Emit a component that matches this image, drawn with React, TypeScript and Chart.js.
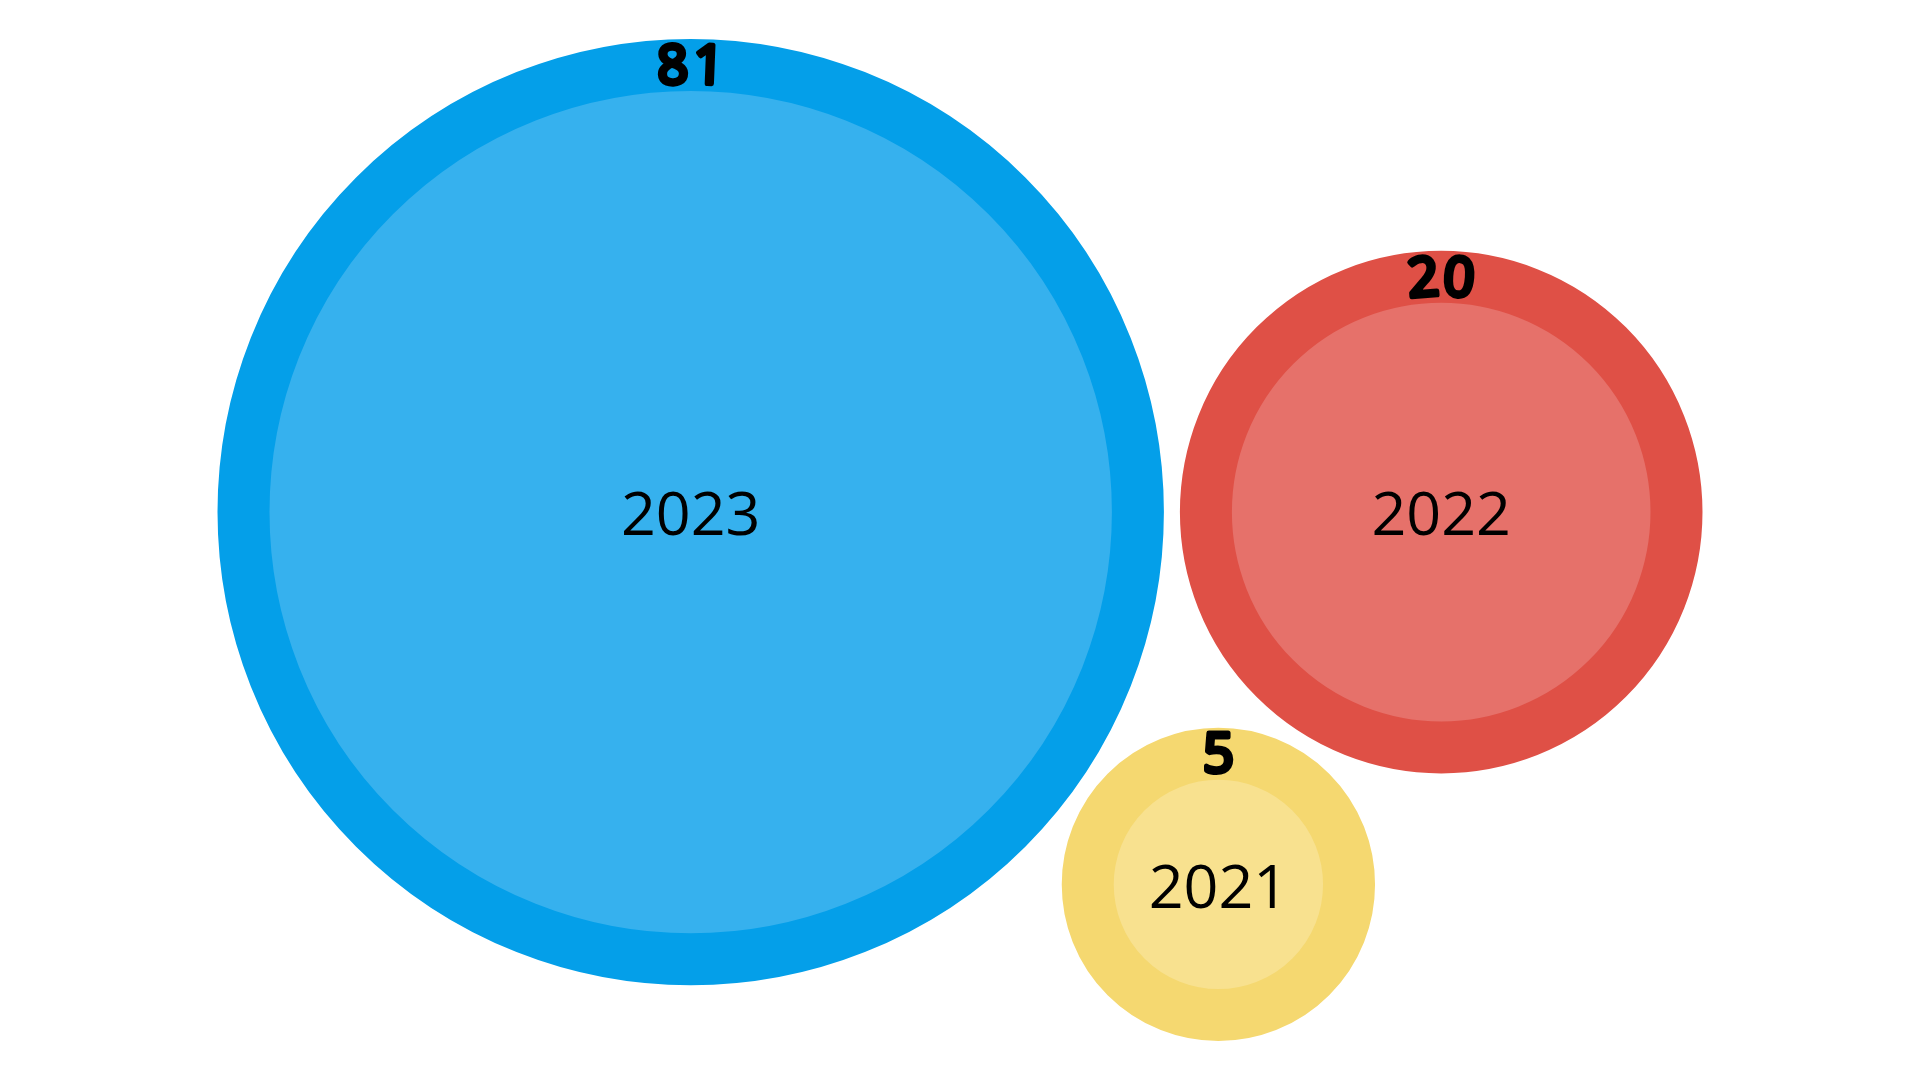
import React, { useEffect, useRef } from 'react';
import { Chart, registerables } from 'chart.js';

Chart.register(...registerables);

// ---- data ----
const years = ['2023', '2022', '2021'];
const counts = [81, 20, 5];

// ---- styles ----
const ringColors = ['#049FE9', '#DF5046', '#F5D870'];
const fillColors = ['#36B1EE', '#E6716A', '#F8E18F'];

const W = 1920;
const H = 1080;
const UNIT = 46.8; // inner radius per sqrt(count)
const RING = 52; // ring thickness
const GAP = 16; // gap between packed bubbles

function packLayout(outer: number[]) {
  const [rA, rB, rC] = outer;
  const dAB = rA + rB + GAP;
  const dAC = rA + rC + GAP;
  const dBC = rB + rC + GAP;
  const cx = (dAB * dAB + dAC * dAC - dBC * dBC) / (2 * dAB);
  const cy = Math.sqrt(Math.max(0, dAC * dAC - cx * cx));
  const pts = [
    { x: 0, y: 0 },
    { x: dAB, y: 0 },
    { x: cx, y: cy },
  ];
  let minX = Infinity, maxX = -Infinity, minY = Infinity, maxY = -Infinity;
  pts.forEach((p, i) => {
    minX = Math.min(minX, p.x - outer[i]);
    maxX = Math.max(maxX, p.x + outer[i]);
    minY = Math.min(minY, p.y - outer[i]);
    maxY = Math.max(maxY, p.y + outer[i]);
  });
  const ox = W / 2 - (minX + maxX) / 2;
  const oy = H / 2 - (minY + maxY) / 2;
  return pts.map((p) => ({ x: p.x + ox, y: p.y + oy }));
}

const labelPlugin = {
  id: 'bubbleLabels',
  afterDatasetsDraw(chart: any) {
    const ctx = chart.ctx as CanvasRenderingContext2D;
    const meta = chart.getDatasetMeta(0);
    meta.data.forEach((el: any, i: number) => {
      const r = el.options.radius;
      const x = el.x;
      const y = el.y;
      ctx.save();
      ctx.fillStyle = '#000';
      ctx.strokeStyle = '#000';
      ctx.textAlign = 'center';
      ctx.textBaseline = 'middle';
      ctx.font = '400 61px "Open Sans"';
      ctx.fillText(years[i], x, y + 6);

      // curved value label along the ring (emboldened with a stroke)
      ctx.font = '400 54px "Open Sans"';
      ctx.lineWidth = 5;
      ctx.lineJoin = 'round';
      const txt = String(counts[i]);
      const chars = txt.split('');
      const widths = chars.map((c) => ctx.measureText(c).width + 5);
      const total = widths.reduce((a, b) => a + b, 0);
      const R = r;
      let ang = -Math.PI / 2 - total / R / 2;
      chars.forEach((c, k) => {
        const a = ang + widths[k] / R / 2;
        ctx.save();
        ctx.translate(x + R * Math.cos(a), y + R * Math.sin(a));
        ctx.rotate(a + Math.PI / 2);
        ctx.strokeText(c, 0, 3);
        ctx.fillText(c, 0, 3);
        ctx.restore();
        ang += widths[k] / R;
      });
      ctx.restore();
    });
  },
};

export default function App() {
  const ref = useRef<HTMLCanvasElement | null>(null);
  useEffect(() => {
    document.body.style.margin = '0';
    const inner = counts.map((v) => UNIT * Math.sqrt(v));
    const outer = inner.map((r) => r + RING);
    const centers = packLayout(outer);
    const data = counts.map((v, i) => ({
      x: centers[i].x,
      y: centers[i].y,
      r: inner[i] + RING / 2,
    }));
    const chart = new Chart(ref.current as HTMLCanvasElement, {
      type: 'bubble',
      data: {
        labels: years,
        datasets: [
          {
            data,
            backgroundColor: fillColors,
            borderColor: ringColors,
            borderWidth: RING,
            hoverBorderWidth: RING,
            clip: false as any,
          },
        ],
      },
      options: {
        animation: false,
        responsive: false,
        events: [],
        layout: { padding: 0, autoPadding: false } as any,
        scales: {
          x: { type: 'linear', min: 0, max: W, display: false },
          y: { type: 'linear', min: 0, max: H, reverse: true, display: false },
        },
        plugins: {
          legend: { display: false },
          tooltip: { enabled: false },
        },
      },
      plugins: [labelPlugin],
    });
    return () => chart.destroy();
  }, []);
  return (
    <div style={{ position: 'absolute', left: 0, top: 0, width: W, height: H, background: '#fff' }}>
      <canvas ref={ref} width={W} height={H} style={{ width: W, height: H }} />
    </div>
  );
}
